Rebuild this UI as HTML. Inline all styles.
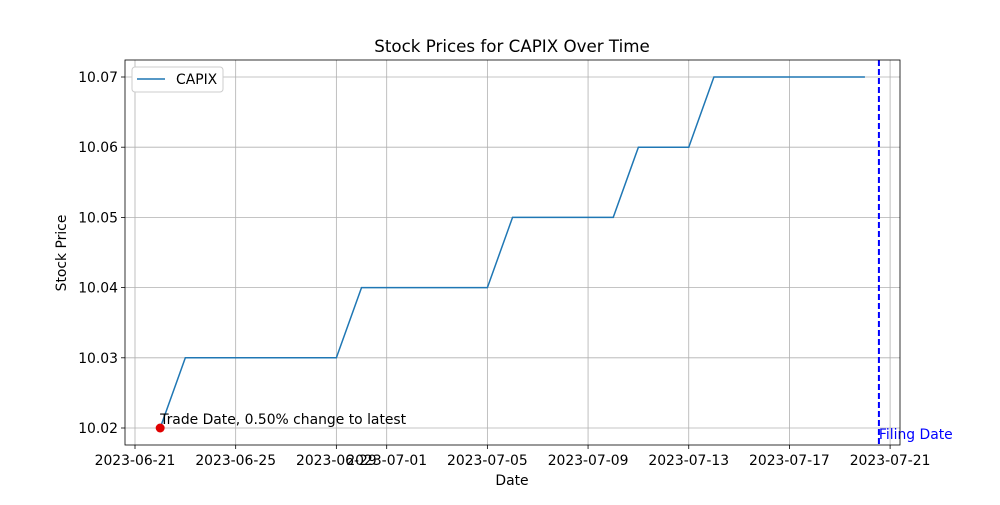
<!DOCTYPE html>
<html><head><meta charset="utf-8"><style>body{margin:0;background:#fff}svg{font-family:"DejaVu Sans","Liberation Sans",sans-serif}</style></head>
<body>
<svg id="c" width="1000" height="500" xmlns="http://www.w3.org/2000/svg"></svg>
<script>
const dates=["2023-06-22","2023-06-23","2023-06-24","2023-06-25","2023-06-26","2023-06-27","2023-06-28","2023-06-29","2023-06-30","2023-07-01","2023-07-02","2023-07-03","2023-07-04","2023-07-05","2023-07-06","2023-07-07","2023-07-08","2023-07-09","2023-07-10","2023-07-11","2023-07-12","2023-07-13","2023-07-14","2023-07-15","2023-07-16","2023-07-17","2023-07-18","2023-07-19","2023-07-20"];
const prices=[10.02,10.03,10.03,10.03,10.03,10.03,10.03,10.03,10.04,10.04,10.04,10.04,10.04,10.04,10.05,10.05,10.05,10.05,10.05,10.06,10.06,10.06,10.07,10.07,10.07,10.07,10.07,10.07,10.07];
const xTicks=["2023-06-21","2023-06-25","2023-06-29","2023-07-01","2023-07-05","2023-07-09","2023-07-13","2023-07-17","2023-07-21"];
const yTicks=[10.02,10.03,10.04,10.05,10.06,10.07];
const filingDate="2023-07-20T13:20:00";
const L=125,R=900,T=60,B=445;
const d0=Date.parse("2023-06-21T00:00:00Z");
function day(s){return (Date.parse(s.length>10?s+"Z":s+"T00:00:00Z")-d0)/864e5;}
function X(s){return 135+day(s)*25.17;}
function Y(v){return 428-(v-10.02)/0.01*70.2;}
const svg=document.getElementById('c');const NS="http://www.w3.org/2000/svg";
function mk(t,a,txt,name){const e=document.createElementNS(NS,t);for(const k in a)e.setAttribute(k,a[k]);if(txt!=null)e.textContent=txt;


svg.appendChild(e);return e;}
xTicks.forEach(t=>{const x=X(t);mk('line',{x1:x,x2:x,y1:T,y2:B,stroke:'#b0b0b0','stroke-width':0.8},null,'x-grid-line');
mk('line',{x1:x,x2:x,y1:B,y2:B+4,stroke:'#000','stroke-width':0.8},null,'x-tick');
mk('text',{x:x,y:B+20,'font-size':13.9,'text-anchor':'middle'},t,'x-tick-label');});
yTicks.forEach(v=>{const y=Y(v);mk('line',{x1:L,x2:R,y1:y,y2:y,stroke:'#b0b0b0','stroke-width':0.8},null,'y-grid-line');
mk('line',{x1:L-4,x2:L,y1:y,y2:y,stroke:'#000','stroke-width':0.8},null,'y-tick');
mk('text',{x:L-7,y:y+5,'font-size':13.9,'text-anchor':'end'},v.toFixed(2),'y-tick-label');});
mk('polyline',{points:dates.map((d,i)=>X(d)+','+Y(prices[i])).join(' '),fill:'none',stroke:'#1f77b4','stroke-width':1.5},null,'capix-price-line');
mk('circle',{cx:X(dates[0]),cy:Y(prices[0]),r:4.5,fill:'#e00000'},null,'trade-date-marker');
const chg=((prices[prices.length-1]-prices[0])/prices[0]*100).toFixed(2);
mk('text',{x:X(dates[0]),y:Y(prices[0])-4,'font-size':13.9},'Trade Date, '+chg+'% change to latest','trade-date-annotation');
const fx=X(filingDate);
mk('line',{x1:fx,x2:fx,y1:T,y2:B,stroke:'#0000ff','stroke-width':2,'stroke-dasharray':'6,3'},null,'filing-date-line');
mk('text',{x:fx,y:439,'font-size':13.9,fill:'#0000ff'},'Filing Date','filing-date-label');
mk('rect',{x:L,y:T,width:R-L,height:B-T,fill:'none',stroke:'#000','stroke-width':0.8},null,'plot-frame');
mk('text',{x:512,y:52,'font-size':16.7,'text-anchor':'middle'},'Stock Prices for CAPIX Over Time','chart-title');
mk('text',{x:512,y:485,'font-size':13.9,'text-anchor':'middle'},'Date','x-axis-title');
mk('text',{x:66,y:253,'font-size':13.9,'text-anchor':'middle',transform:'rotate(-90 66 253)'},'Stock Price','y-axis-title');
mk('rect',{x:132,y:67,width:91,height:25,rx:3,fill:'#fff',stroke:'#ccc'},null,'legend-box');
mk('line',{x1:137,x2:165,y1:79,y2:79,stroke:'#1f77b4','stroke-width':1.5},null,'legend-line');
mk('text',{x:176,y:84,'font-size':13.9},'CAPIX','legend-label');
</script>
</body></html>
